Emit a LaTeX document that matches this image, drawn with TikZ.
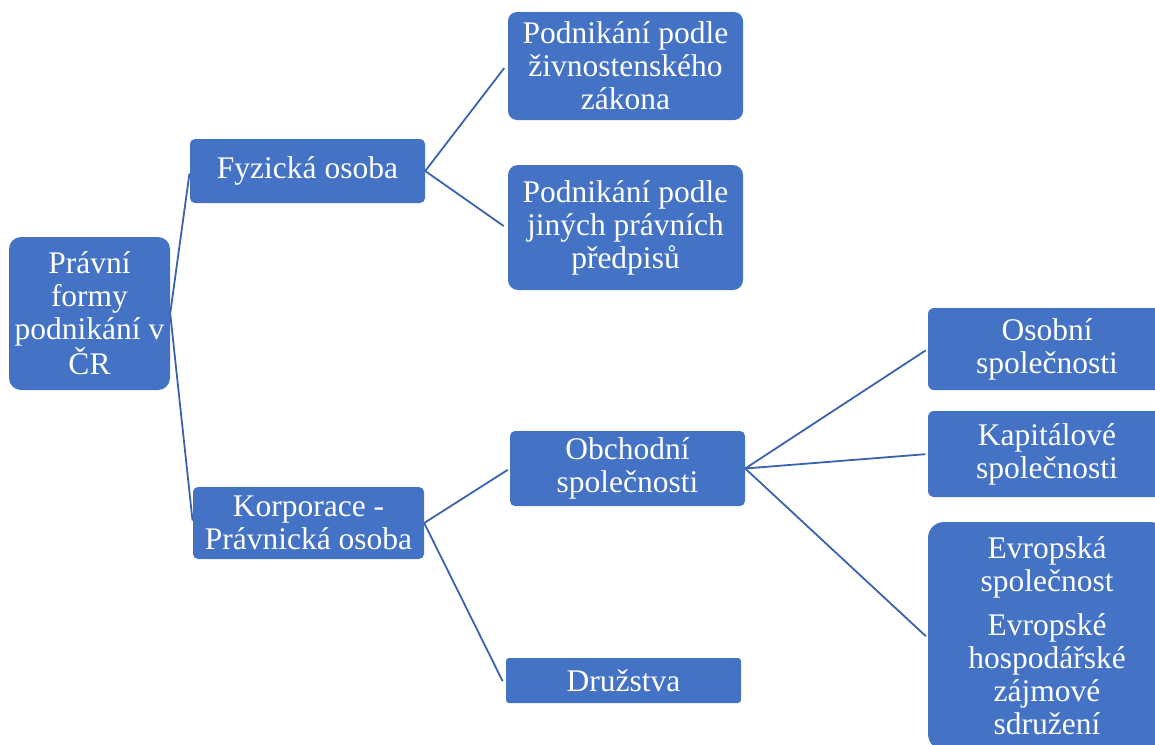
\documentclass[tikz,border=0pt]{standalone}
\usepackage{fontspec}
\setmainfont{Liberation Serif}
\definecolor{boxblue}{HTML}{4472C4}
\definecolor{lineblue}{HTML}{3A62AE}
\tikzset{
  box/.style={fill=boxblue, draw=none, text=white, align=center, inner sep=0pt,
    font=\fontsize{31.5}{33}\selectfont},
  conn/.style={draw=lineblue, line width=1.8pt, shorten >=2.5pt}
}
\begin{document}
\begin{tikzpicture}[x=1pt,y=-1pt]
\useasboundingbox (0,0) rectangle (1155,744);
\clip (0,0) rectangle (1155,744);
\node[box, minimum width=161pt, minimum height=153pt, rounded corners=12pt] (root) at (89.5,313.5) {Právní\\formy\\podnikání v\\ČR};
\node[box, minimum width=235pt, minimum height=64pt, rounded corners=5pt] (fo) at (307.5,171) {Fyzická osoba};
\node[box, minimum width=231pt, minimum height=72pt, rounded corners=5pt] (po) at (308.5,523) {Korporace -\\Právnická osoba};
\node[box, minimum width=235pt, minimum height=108pt, rounded corners=9pt] (pz) at (625.5,66) {Podnikání podle\\živnostenského\\zákona};
\node[box, minimum width=235pt, minimum height=125pt, rounded corners=10pt] (pj) at (625.5,227.5) {Podnikání podle\\jiných právních\\předpisů};
\node[box, minimum width=235pt, minimum height=75pt, rounded corners=5pt] (os) at (627.5,468.5) {Obchodní\\společnosti};
\node[box, minimum width=235pt, minimum height=45pt, rounded corners=3pt] (dr) at (623.5,680.5) {Družstva};
\node[box, minimum width=238pt, minimum height=82pt, rounded corners=6pt] (ob) at (1047,349) {Osobní\\společnosti};
\node[box, minimum width=238pt, minimum height=86pt, rounded corners=6pt] (ka) at (1047,454) {Kapitálové\\společnosti};
\node[box, minimum width=238pt, minimum height=228pt, rounded corners=16pt] (ev) at (1047,636) {Evropská\\společnost\\[11pt]Evropské\\hospodářské\\zájmové\\sdružení};
\draw[conn] (root.east) -- (fo.west);
\draw[conn] (root.east) -- (po.west);
\draw[conn] (fo.east) -- ([xshift=-2pt]pz.west);
\draw[conn] (fo.east) -- ([xshift=-2pt]pj.west);
\draw[conn] (po.east) -- (os.west);
\draw[conn] (po.east) -- ([xshift=-2pt,yshift=-3pt]dr.west);
\draw[conn] (os.east) -- (ob.west);
\draw[conn] (os.east) -- (ka.west);
\draw[conn] (os.east) -- ([yshift=-2pt]ev.west);
\end{tikzpicture}
\end{document}
